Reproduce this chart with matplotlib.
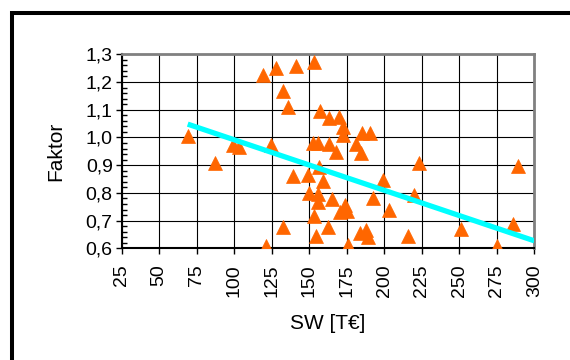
import matplotlib
matplotlib.use("Agg")
import matplotlib.pyplot as plt
from matplotlib.patches import Rectangle
from matplotlib.ticker import MultipleLocator, FuncFormatter

plt.rcParams["font.family"] = ["Liberation Sans", "DejaVu Sans"]

# SW in T€ and the factor per item
sw = [69, 87, 99, 103, 119.4, 128, 124.5, 132.3, 135.7, 141, 139.5, 132.7, 121,
      153.4, 157.2, 163.4, 170, 172.3, 172.3, 152.3, 156, 163.4, 167.9, 181.2,
      185, 190.5, 184.5, 223.4, 289, 149.4, 156.7, 159.4, 150, 156, 156, 165,
      173.9, 170.5, 175.4, 153.2, 199.4, 192.3, 203.4, 219.9, 162.3, 154.5,
      176, 183.9, 187.9, 189.4, 216, 251, 275, 286]
faktor = [1.006, 0.907, 0.973, 0.964, 1.225, 1.249, 0.973, 1.169, 1.109, 1.258,
          0.860, 0.678, 0.608, 1.272, 1.095, 1.069, 1.073, 1.037, 1.009, 0.979,
          0.981, 0.976, 0.948, 0.976, 1.015, 1.015, 0.945, 0.907, 0.896, 0.864,
          0.894, 0.844, 0.800, 0.797, 0.766, 0.777, 0.756, 0.732, 0.736, 0.717,
          0.846, 0.780, 0.738, 0.792, 0.678, 0.644, 0.613, 0.654, 0.666, 0.640,
          0.644, 0.668, 0.608, 0.689]

# linear trend line end points
trend_x = [69, 300]
trend_y = [1.048, 0.627]

W, H = 570, 360
fig = plt.figure(figsize=(W / 100, H / 100), dpi=100)

# outer chart frame (runs off the right and bottom edge)
fig.patches.append(Rectangle((12 / W, -0.2), 1.2, (H - 13) / H + 0.2,
                             transform=fig.transFigure, fill=False,
                             edgecolor="black", linewidth=2.9))

ax = fig.add_axes([121.7 / W, (H - 248.3) / H, 412.6 / W, 194 / H])

ax.grid(True, color="black", linewidth=0.8)
ax.set_axisbelow(True)

ax.plot(sw, faktor, linestyle="None", marker="^", markersize=10,
        color="#FF6600", markeredgecolor="#FF6600", markeredgewidth=0.5,
        zorder=3)
ax.plot(trend_x, trend_y, color="#00FFFF", linewidth=3.8,
        solid_capstyle="butt", zorder=4)

ax.set_xlim(25, 300)
ax.set_ylim(0.6, 1.3)
ax.xaxis.set_major_locator(MultipleLocator(25))
ax.yaxis.set_major_locator(MultipleLocator(0.1))
ax.yaxis.set_minor_locator(MultipleLocator(0.02))
ax.yaxis.set_major_formatter(FuncFormatter(lambda v, p: f"{v:.1f}".replace(".", ",")))

ax.tick_params(axis="x", which="major", direction="out", length=4.5, width=1,
               labelsize=14, pad=7, labelrotation=90)
ax.tick_params(axis="y", which="major", direction="out", length=4.5, width=1,
               labelsize=14, pad=2)
ax.tick_params(axis="y", which="minor", direction="in", length=3.6, width=1)

for side in ("top", "right"):
    ax.spines[side].set_color("#808080")
    ax.spines[side].set_linewidth(2.0)
for side in ("left", "bottom"):
    ax.spines[side].set_color("black")
    ax.spines[side].set_linewidth(1.5)

ax.set_xlabel("SW [T€]", fontsize=15, labelpad=12)
ax.set_ylabel("Faktor", fontsize=15, labelpad=15)

fig.savefig("out.png", dpi=100)
